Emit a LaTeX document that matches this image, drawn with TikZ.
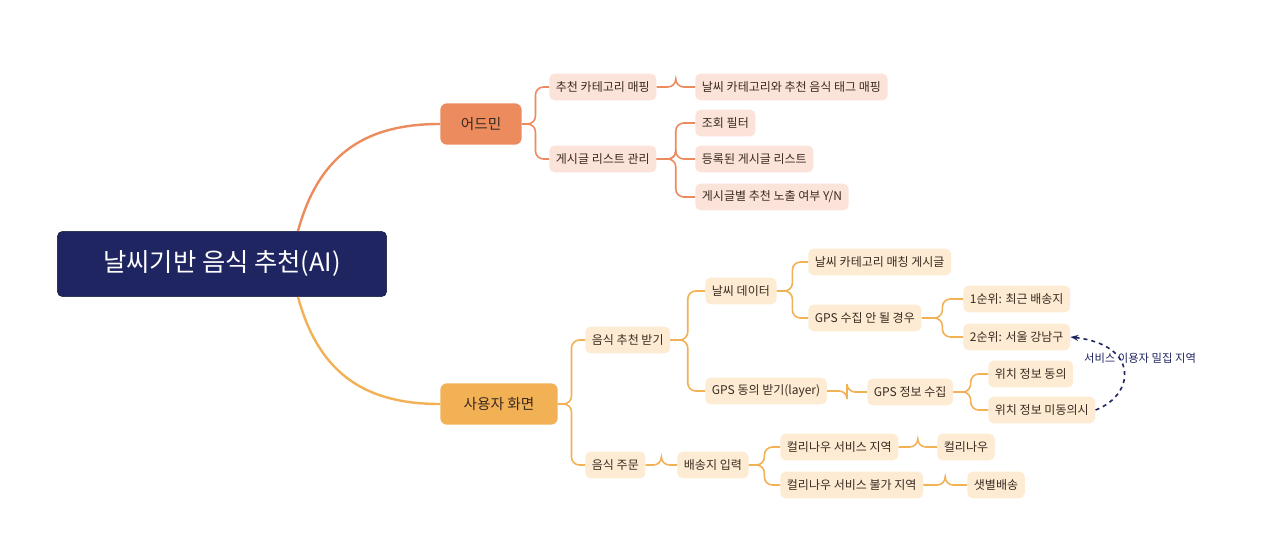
\documentclass[tikz,border=0pt]{standalone}
\usepackage{fontspec}
\setmainfont{Noto Sans CJK KR}
\usetikzlibrary{arrows.meta,calc}
\definecolor{navy}{HTML}{1F2560}
\definecolor{adm}{HTML}{EC8B5E}
\definecolor{usr}{HTML}{F2B155}
\definecolor{admL}{HTML}{FBE3D9}
\definecolor{usrL}{HTML}{FDEBD3}
\definecolor{txt}{HTML}{3A2A20}
\tikzset{
 leafA/.style={fill=admL,rounded corners=4pt,minimum height=20pt,inner xsep=5pt,font=\fontsize{9}{10}\selectfont,text=txt},
 leafU/.style={fill=usrL,rounded corners=4pt,minimum height=20pt,inner xsep=5pt,font=\fontsize{9}{10}\selectfont,text=txt},
 lA/.style={draw=adm,line width=1.2pt,rounded corners=6pt},
 lU/.style={draw=usr,line width=1.2pt,rounded corners=6pt},
}
\newcommand{\conn}[3]{\draw[#1] (#2.east) -- ($(#2.east)!.5!(#2.east-|#3.west)$) |- (#3.west);}
\begin{document}
\begin{tikzpicture}[x=0.75pt,y=-0.75pt]
\useasboundingbox (0,0) rectangle (1280,545);
\node[fill=navy,draw=navy!60!black,rounded corners=4pt,minimum width=247pt,minimum height=49pt,text=white,font=\fontsize{19}{22}\selectfont] (root) at (222,264) {날씨기반 음식 추천(AI)};
\node[fill=adm,rounded corners=5pt,minimum width=61pt,minimum height=31pt,text=txt,font=\fontsize{11}{12}\selectfont] (adm) at (481,124) {어드민};
\node[fill=usr,rounded corners=5pt,minimum width=88pt,minimum height=31pt,text=txt,font=\fontsize{11}{12}\selectfont] (usr) at (499,404) {사용자 화면};
\draw[adm,line width=1.8pt] (298,231) .. controls (320,150) and (370,124) .. (adm.west);
\draw[usr,line width=1.8pt] (298,297) .. controls (320,378) and (370,404) .. (usr.west);
% admin
\node[leafA,anchor=west] (a1) at (549,87) {추천 카테고리 매핑};
\node[leafA,anchor=west] (a2) at (549,159) {게시글 리스트 관리};
\node[leafA,anchor=west] (a11) at (695,87) {날씨 카테고리와 추천 음식 태그 매핑};
\node[leafA,anchor=west] (a21) at (695,123) {조회 필터};
\node[leafA,anchor=west] (a22) at (695,159) {등록된 게시글 리스트};
\node[leafA,anchor=west] (a23) at (695,197) {게시글별 추천 노출 여부 Y/N};
\conn{lA}{adm}{a1}\conn{lA}{adm}{a2}
\conn{lA}{a1}{a11}
\conn{lA}{a2}{a21}\conn{lA}{a2}{a22}\conn{lA}{a2}{a23}
% user
\node[leafU,anchor=west] (u1) at (585,340) {음식 추천 받기};
\node[leafU,anchor=west] (u2) at (585,465) {음식 주문};
\node[leafU,anchor=west] (u11) at (705,291) {날씨 데이터};
\node[leafU,anchor=west] (u12) at (705,391) {GPS 동의 받기(layer)};
\node[leafU,anchor=west] (u111) at (808,262) {날씨 카테고리 매칭 게시글};
\node[leafU,anchor=west] (u112) at (808,318) {GPS 수집 안 될 경우};
\node[leafU,anchor=west] (p1) at (963,299) {1순위: 최근 배송지};
\node[leafU,anchor=west] (p2) at (963,337) {2순위: 서울 강남구};
\node[leafU,anchor=west] (g) at (867,392) {GPS 정보 수집};
\node[leafU,anchor=west] (g1) at (988,374) {위치 정보 동의};
\node[leafU,anchor=west] (g2) at (988,410) {위치 정보 미동의시};
\node[leafU,anchor=west] (d) at (677,465) {배송지 입력};
\node[leafU,anchor=west] (d1) at (780,447) {컬리나우 서비스 지역};
\node[leafU,anchor=west] (d2) at (780,485) {컬리나우 서비스 불가 지역};
\node[leafU,anchor=west] (k1) at (937,447) {컬리나우};
\node[leafU,anchor=west] (k2) at (967,485) {샛별배송};
\conn{lU}{usr}{u1}\conn{lU}{usr}{u2}
\conn{lU}{u1}{u11}\conn{lU}{u1}{u12}
\conn{lU}{u11}{u111}\conn{lU}{u11}{u112}
\conn{lU}{u112}{p1}\conn{lU}{u112}{p2}
\conn{lU}{u12}{g}
\conn{lU}{g}{g1}\conn{lU}{g}{g2}
\conn{lU}{u2}{d}
\conn{lU}{d}{d1}\conn{lU}{d}{d2}
\conn{lU}{d1}{k1}\conn{lU}{d2}{k2}
\node[text=navy,font=\fontsize{8.5}{10}\selectfont] (lab) at (1140,358) {서비스 이용자 밀집 지역};
\draw[navy,line width=1.2pt,dashed,-{Stealth[length=6pt]}] (g2.east) .. controls (1135,395) and (1140,345) .. (p2.east);
\end{tikzpicture}
\end{document}
